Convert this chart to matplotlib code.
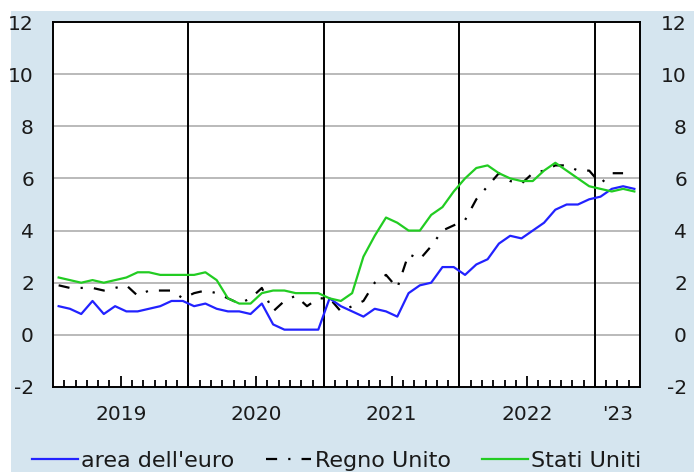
import numpy as np
import matplotlib
matplotlib.use("Agg")
import matplotlib.pyplot as plt
from matplotlib.patches import Rectangle

# Monthly data, Jan 2019 - Apr 2023 (core inflation, %)
euro = [1.1, 1.0, 0.8, 1.3, 0.8, 1.1, 0.9, 0.9, 1.0, 1.1, 1.3, 1.3,
        1.1, 1.2, 1.0, 0.9, 0.9, 0.8, 1.2, 0.4, 0.2, 0.2, 0.2, 0.2,
        1.4, 1.1, 0.9, 0.7, 1.0, 0.9, 0.7, 1.6, 1.9, 2.0, 2.6, 2.6,
        2.3, 2.7, 2.9, 3.5, 3.8, 3.7, 4.0, 4.3, 4.8, 5.0, 5.0, 5.2,
        5.3, 5.6, 5.7, 5.6]
uk = [1.9, 1.8, 1.8, 1.8, 1.7, 1.8, 1.9, 1.5, 1.7, 1.7, 1.7, 1.4,
      1.6, 1.7, 1.6, 1.4, 1.2, 1.4, 1.8, 0.9, 1.3, 1.5, 1.1, 1.4,
      1.4, 0.9, 1.1, 1.3, 2.0, 2.3, 1.8, 3.1, 2.9, 3.4, 4.0, 4.2,
      4.4, 5.2, 5.7, 6.2, 5.9, 5.8, 6.2, 6.3, 6.5, 6.5, 6.3, 6.3,
      5.8, 6.2, 6.2, np.nan]
us = [2.2, 2.1, 2.0, 2.1, 2.0, 2.1, 2.2, 2.4, 2.4, 2.3, 2.3, 2.3,
      2.3, 2.4, 2.1, 1.4, 1.2, 1.2, 1.6, 1.7, 1.7, 1.6, 1.6, 1.6,
      1.4, 1.3, 1.6, 3.0, 3.8, 4.5, 4.3, 4.0, 4.0, 4.6, 4.9, 5.5,
      6.0, 6.4, 6.5, 6.2, 6.0, 5.9, 5.9, 6.3, 6.6, 6.3, 6.0, 5.7,
      5.6, 5.5, 5.6, 5.5]
year_labels = ["2019", "2020", "2021", "2022", "'23"]
year_label_pos = [6, 18, 30, 42, 50]      # months from Jan 2019
year_bounds = [12, 24, 36, 48]
legend_labels = ["area dell'euro", "Regno Unito", "Stati Uniti"]
yticks = [-2, 0, 2, 4, 6, 8, 10, 12]

n = len(euro)
x = np.arange(n) + 0.5

plt.rcParams['font.family'] = ['DejaVu Sans']
txtc = '#1a1a1a'
bg = '#d5e5ef'

fig = plt.figure(figsize=(6.94, 4.72), dpi=100)
fig.patches.append(Rectangle((11/694, 0), 1 - 11/694, (472-11)/472,
                             transform=fig.transFigure, facecolor=bg,
                             edgecolor='none', zorder=-10))

ax = fig.add_axes([53/694, 85/472, (640-53)/694, (387-22)/472])
ax.set_facecolor('white')
ax.set_xlim(0, n)
ax.set_ylim(-2, 12)

# grid
for yv in yticks[1:-1]:
    ax.axhline(yv, color='#b4b4b4', lw=1.3, zorder=1)
for xb in year_bounds:
    ax.axvline(xb, color='black', lw=1.4, zorder=2)

blue, = ax.plot(x, euro, color='#2222ff', lw=1.6, zorder=4)
ukl, = ax.plot(x, uk, color='black', lw=1.6, dashes=(5, 5, 1, 5), zorder=3)
green, = ax.plot(x, us, color='#22cc22', lw=1.6, zorder=5)

for s in ax.spines.values():
    s.set_color('black')
    s.set_linewidth(1.4)

ax.set_yticks(yticks)
ax.set_yticklabels([str(v) for v in yticks])
ax.tick_params(axis='y', length=0, pad=13.7, labelsize=14.5, labelcolor=txtc)

ax.set_xticks(year_label_pos)
ax.set_xticklabels(year_labels)
minor = [m for m in range(1, n) if m not in year_label_pos]
ax.set_xticks(minor, minor=True)
ax.tick_params(axis='x', which='major', direction='in', length=7.7, width=1.3,
               pad=13, labelsize=14.5, labelcolor=txtc, color='black')
ax.tick_params(axis='x', which='minor', direction='in', length=4.8, width=1.3,
               color='black')
ax.xaxis.get_major_ticks()[4].tick1line.set_markersize(4.8)

ax2 = ax.twinx()
ax2.set_ylim(-2, 12)
ax2.set_yticks(yticks)
ax2.set_yticklabels([str(v) for v in yticks])
ax2.tick_params(axis='y', length=0, pad=33.8, labelsize=14.5, labelcolor=txtc)
for lab in ax2.get_yticklabels():
    lab.set_horizontalalignment('right')
ax2.spines[:].set_visible(False)

leg = fig.legend([blue, ukl, green], legend_labels, loc='center left',
                 bbox_to_anchor=(32/694, 11/472), ncol=3, frameon=False,
                 fontsize=16, handlelength=2.05, handletextpad=0.15,
                 columnspacing=1.42, borderpad=0, borderaxespad=0)
for t in leg.get_texts():
    t.set_color(txtc)

fig.savefig('out.png', dpi=100)
